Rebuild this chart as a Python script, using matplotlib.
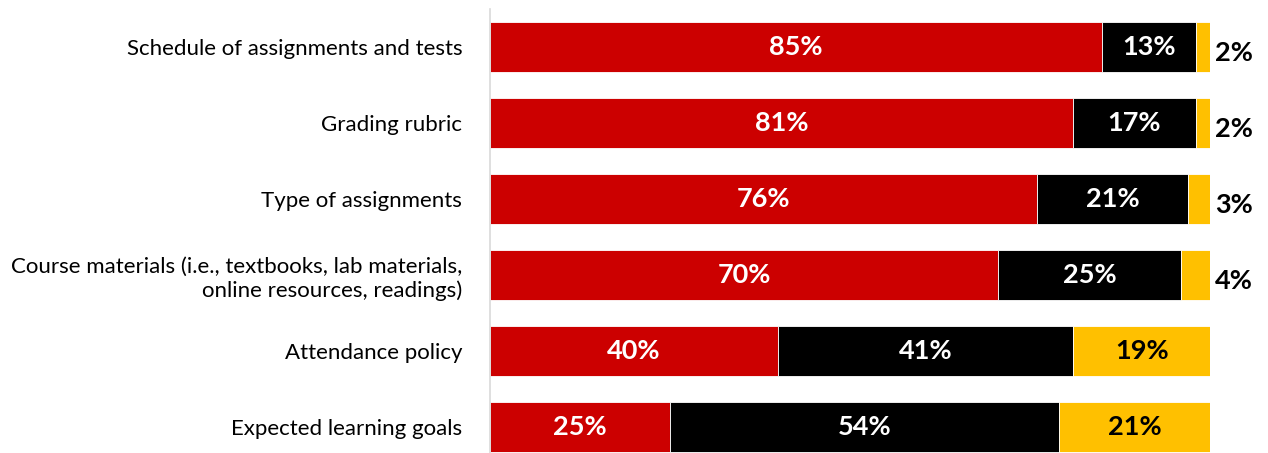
import matplotlib
matplotlib.use("Agg")
import matplotlib.pyplot as plt

categories = ["Schedule of assignments and tests",
              "Grading rubric",
              "Type of assignments",
              "Course materials (i.e., textbooks, lab materials,\nonline resources, readings)",
              "Attendance policy",
              "Expected learning goals"]
red_vals = [85, 81, 76, 70.6, 40, 25]
black_vals = [13, 17, 21, 25.4, 41, 54]
gold_vals = [2, 2, 3, 4, 19, 21]
red_labels = ["85%", "81%", "76%", "70%", "40%", "25%"]
black_labels = ["13%", "17%", "21%", "25%", "41%", "54%"]
gold_labels = ["2%", "2%", "3%", "4%", "19%", "21%"]

RED = "#CC0000"
BLACK = "#000000"
GOLD = "#FFC000"

plt.rcParams['font.family'] = ['Lato', 'DejaVu Sans']

fig = plt.figure(figsize=(12.68, 4.53), dpi=100)
ax = fig.add_axes([490/1268, -12/453, 720/1268, 456/453])

y = list(range(len(categories)))
left2 = [r + b for r, b in zip(red_vals, black_vals)]
ax.barh(y, red_vals, height=0.66, color=RED, edgecolor="white", linewidth=0.6)
ax.barh(y, black_vals, left=red_vals, height=0.66, color=BLACK, edgecolor="white", linewidth=0.6)
ax.barh(y, gold_vals, left=left2, height=0.66, color=GOLD, edgecolor="white", linewidth=0.6)

fs = 19.5
for i in y:
    ax.text(red_vals[i] / 2, i, red_labels[i], ha="center", va="center",
            color="white", fontsize=fs, fontweight="bold")
    ax.text(red_vals[i] + black_vals[i] / 2, i, black_labels[i], ha="center", va="center",
            color="white", fontsize=fs, fontweight="bold")
    if gold_vals[i] >= 10:
        ax.text(left2[i] + gold_vals[i] / 2, i, gold_labels[i], ha="center", va="center",
                color="black", fontsize=fs, fontweight="bold")
    else:
        ax.text(left2[i] + gold_vals[i] + 0.7, i + 0.08, gold_labels[i], ha="left", va="center",
                color="black", fontsize=fs, fontweight="bold")

ax.set_xlim(0, 100)
ax.set_ylim(5.5, -0.5)
ax.set_yticks(y)
ax.set_yticklabels(categories, fontsize=16, ha="right")
ax.tick_params(axis="y", length=0, pad=20)
ax.set_xticks([])
for s in ["top", "right", "bottom"]:
    ax.spines[s].set_visible(False)
ax.spines["left"].set_color("#D9D9D9")
ax.spines["left"].set_linewidth(1.2)

fig.savefig("out.png", dpi=100)
